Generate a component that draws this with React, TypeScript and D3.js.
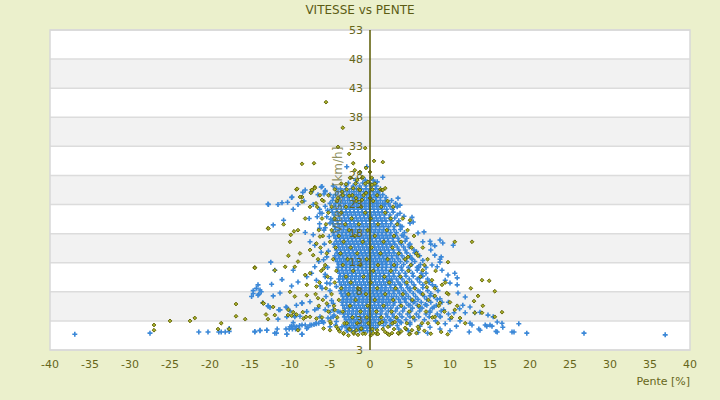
import React from "react";
import * as d3 from "d3";

const title = "VITESSE vs PENTE";
const xTitle = "Pente [%]";
const yTitle = "Vitesse [km/h]";
const xTicks = [-40, -35, -30, -25, -20, -15, -10, -5, 0, 5, 10, 15, 20, 25, 30, 35, 40];
const yTicks = [53, 48, 43, 38, 33, 28, 23, 18, 13, 8, 3];
const yMinValue = -2;
const yMinLabel = "3";

// blue series (dense core), rows of [speed, slopes]
const blueRows: [number, number[]][] = [
  [27.2, [-1.8, -0.6, 0.4]],
  [26.2, [-3.0, -2.1, -1.3, -0.5, 0.2, 0.8]],
  [25.2, [-4.0, -3.3, -2.6, -2.0, -1.4, -0.8, -0.2, 0.4, 1.0]],
  [24.2, [-4.6, -3.8, -3.2, -2.6, -2.0, -1.5, -1.0, -0.4, 0.2, 0.7, 1.3, 2.0]],
  [23.2, [-5.0, -4.3, -3.7, -3.1, -2.5, -2.0, -1.5, -1.0, -0.5, 0.0, 0.5, 1.0, 1.6, 2.3, 3.2]],
  [22.2, [-4.8, -4.2, -3.6, -3.0, -2.5, -2.0, -1.5, -1.0, -0.5, 0.0, 0.5, 1.0, 1.5, 2.1, 2.8]],
  [21.2, [-4.5, -3.9, -3.3, -2.8, -2.3, -1.8, -1.3, -0.8, -0.3, 0.2, 0.7, 1.2, 1.8, 2.5, 3.4]],
  [20.2, [-4.7, -4.1, -3.5, -3.0, -2.5, -2.0, -1.5, -1.0, -0.5, 0.0, 0.5, 1.0, 1.5, 2.0, 2.7, 3.6]],
  [19.2, [-4.4, -3.8, -3.3, -2.8, -2.3, -1.8, -1.3, -0.8, -0.3, 0.2, 0.7, 1.2, 1.7, 2.3, 3.0, 4.0]],
  [18.2, [-4.6, -4.0, -3.5, -3.0, -2.5, -2.0, -1.5, -1.0, -0.5, 0.0, 0.5, 1.0, 1.5, 2.0, 2.6, 3.3, 4.3]],
  [17.2, [-4.3, -3.8, -3.3, -2.8, -2.3, -1.8, -1.3, -0.8, -0.3, 0.2, 0.7, 1.2, 1.7, 2.2, 2.8, 3.5, 4.6]],
  [16.2, [-4.5, -4.0, -3.5, -3.0, -2.5, -2.0, -1.5, -1.0, -0.5, 0.0, 0.5, 1.0, 1.5, 2.0, 2.5, 3.1, 3.9, 5.0]],
  [15.2, [-4.2, -3.7, -3.2, -2.7, -2.2, -1.7, -1.2, -0.7, -0.2, 0.3, 0.8, 1.3, 1.8, 2.3, 2.9, 3.6, 4.4, 5.5]],
  [14.2, [-4.4, -3.9, -3.4, -2.9, -2.4, -1.9, -1.4, -0.9, -0.4, 0.1, 0.6, 1.1, 1.6, 2.1, 2.7, 3.3, 4.0, 5.0, 6.2]],
  [13.2, [-4.1, -3.6, -3.1, -2.6, -2.1, -1.6, -1.1, -0.6, -0.1, 0.4, 0.9, 1.4, 1.9, 2.5, 3.1, 3.8, 4.6, 5.6]],
  [12.2, [-4.0, -3.5, -3.0, -2.5, -2.0, -1.5, -1.0, -0.5, 0.0, 0.5, 1.0, 1.5, 2.0, 2.6, 3.2, 3.9, 4.8, 5.9, 7.0]],
  [11.2, [-3.8, -3.3, -2.8, -2.3, -1.8, -1.3, -0.8, -0.3, 0.2, 0.7, 1.2, 1.7, 2.3, 2.9, 3.6, 4.4, 5.3, 6.4]],
  [10.2, [-3.9, -3.4, -2.9, -2.4, -1.9, -1.4, -0.9, -0.4, 0.1, 0.6, 1.1, 1.6, 2.1, 2.7, 3.3, 4.0, 4.9, 5.9, 7.2]],
  [9.2, [-3.6, -3.1, -2.6, -2.1, -1.6, -1.1, -0.6, -0.1, 0.4, 0.9, 1.4, 1.9, 2.5, 3.1, 3.8, 4.6, 5.5, 6.6, 7.8]],
  [8.2, [-3.7, -3.2, -2.7, -2.2, -1.7, -1.2, -0.7, -0.2, 0.3, 0.8, 1.3, 1.8, 2.3, 2.9, 3.5, 4.2, 5.0, 6.0, 7.2, 8.5]],
  [7.2, [-3.4, -2.9, -2.4, -1.9, -1.4, -0.9, -0.4, 0.1, 0.6, 1.1, 1.6, 2.1, 2.7, 3.3, 4.0, 4.8, 5.7, 6.8, 8.0]],
  [6.2, [-3.5, -3.0, -2.5, -2.0, -1.5, -1.0, -0.5, 0.0, 0.5, 1.0, 1.5, 2.0, 2.5, 3.1, 3.8, 4.5, 5.4, 6.4, 7.6, 9.0]],
  [5.2, [-3.2, -2.7, -2.2, -1.7, -1.2, -0.7, -0.2, 0.3, 0.8, 1.3, 1.9, 2.6, 3.4, 4.3, 5.3, 6.5, 7.8]],
  [4.2, [-3.3, -2.8, -2.3, -1.8, -1.3, -0.8, -0.3, 0.2, 0.7, 1.3, 2.0, 2.8, 3.7, 4.7, 5.8, 7.0, 8.4, 9.8]],
  [3.2, [-3.0, -2.5, -2.0, -1.5, -1.0, -0.5, 0.0, 0.5, 1.1, 1.8, 2.6, 3.5, 4.5, 5.6, 6.8]],
  [2.2, [-3.1, -2.6, -2.1, -1.6, -1.1, -0.6, -0.1, 0.4, 1.0, 1.7, 2.5, 3.4]],
  [1.3, [-2.8, -2.3, -1.8, -1.3, -0.8, -0.3, 0.2]],
  [26.7, [-2.7, -1.7, -0.9, -0.1, 0.6]],
  [25.7, [-3.7, -3.0, -2.3, -1.7, -1.1, -0.5, 0.1, 0.7, 1.3]],
  [24.7, [-4.3, -3.5, -2.9, -2.3, -1.7, -1.2, -0.7, -0.1, 0.5, 1.0, 1.6]],
  [23.7, [-4.7, -4.0, -3.4, -2.8, -2.2, -1.7, -1.2, -0.7, -0.2, 0.3, 0.8, 1.3, 1.9, 2.7]],
  [22.7, [-4.5, -3.9, -3.3, -2.7, -2.2, -1.7, -1.2, -0.7, -0.2, 0.3, 0.8, 1.3, 1.8, 2.5]],
  [21.7, [-4.7, -4.1, -3.5, -3.0, -2.5, -2.0, -1.5, -1.0, -0.5, 0.0, 0.5, 1.0, 1.5, 2.1, 2.9]],
  [20.7, [-4.4, -3.8, -3.2, -2.7, -2.2, -1.7, -1.2, -0.7, -0.2, 0.3, 0.8, 1.3, 1.8, 2.4, 3.1]],
  [19.7, [-4.6, -4.0, -3.5, -3.0, -2.5, -2.0, -1.5, -1.0, -0.5, 0.0, 0.5, 1.0, 1.5, 2.0, 2.6, 3.4]],
  [18.7, [-4.3, -3.8, -3.3, -2.8, -2.3, -1.8, -1.3, -0.8, -0.3, 0.2, 0.7, 1.2, 1.7, 2.3, 3.0, 3.8]],
  [17.7, [-4.5, -4.0, -3.5, -3.0, -2.5, -2.0, -1.5, -1.0, -0.5, 0.0, 0.5, 1.0, 1.5, 2.0, 2.5, 3.2, 4.0]],
  [16.7, [-4.2, -3.7, -3.2, -2.7, -2.2, -1.7, -1.2, -0.7, -0.2, 0.3, 0.8, 1.3, 1.8, 2.3, 2.9, 3.6, 4.4]],
  [15.7, [-4.4, -3.9, -3.4, -2.9, -2.4, -1.9, -1.4, -0.9, -0.4, 0.1, 0.6, 1.1, 1.6, 2.1, 2.7, 3.4, 4.2, 4.9]],
  [14.7, [-4.1, -3.6, -3.1, -2.6, -2.1, -1.6, -1.1, -0.6, -0.1, 0.4, 0.9, 1.4, 1.9, 2.4, 3.0, 3.7, 4.6, 5.6]],
  [13.7, [-4.3, -3.8, -3.3, -2.8, -2.3, -1.8, -1.3, -0.8, -0.3, 0.2, 0.7, 1.2, 1.7, 2.2, 2.8, 3.5, 4.3, 5.2]],
  [12.7, [-3.9, -3.4, -2.9, -2.4, -1.9, -1.4, -0.9, -0.4, 0.1, 0.6, 1.1, 1.6, 2.1, 2.7, 3.4, 4.2, 5.2, 6.3]],
  [11.7, [-4.0, -3.5, -3.0, -2.5, -2.0, -1.5, -1.0, -0.5, 0.0, 0.5, 1.0, 1.5, 2.0, 2.6, 3.2, 4.0, 4.9, 5.9]],
  [10.7, [-3.7, -3.2, -2.7, -2.2, -1.7, -1.2, -0.7, -0.2, 0.3, 0.8, 1.3, 1.8, 2.4, 3.0, 3.7, 4.5, 5.4, 6.6]],
  [9.7, [-3.8, -3.3, -2.8, -2.3, -1.8, -1.3, -0.8, -0.3, 0.2, 0.7, 1.2, 1.7, 2.2, 2.8, 3.5, 4.3, 5.2, 6.2, 7.4]],
  [8.7, [-3.5, -3.0, -2.5, -2.0, -1.5, -1.0, -0.5, 0.0, 0.5, 1.0, 1.5, 2.0, 2.6, 3.2, 3.9, 4.7, 5.6, 6.6]],
  [7.7, [-3.6, -3.1, -2.6, -2.1, -1.6, -1.1, -0.6, -0.1, 0.4, 0.9, 1.4, 1.9, 2.4, 3.0, 3.7, 4.5, 5.4, 6.4, 7.6]],
  [6.7, [-3.3, -2.8, -2.3, -1.8, -1.3, -0.8, -0.3, 0.2, 0.7, 1.2, 1.7, 2.3, 2.9, 3.6, 4.3, 5.1, 6.0, 7.1, 8.4]],
  [5.7, [-3.4, -2.9, -2.4, -1.9, -1.4, -0.9, -0.4, 0.1, 0.6, 1.1, 1.6, 2.2, 2.9, 3.8, 4.8, 5.9, 7.1, 8.3]],
  [4.7, [-3.1, -2.6, -2.1, -1.6, -1.1, -0.6, -0.1, 0.4, 0.9, 1.5, 2.3, 3.2, 4.1, 5.1, 6.2, 7.5, 8.9]],
  [3.7, [-3.2, -2.7, -2.2, -1.7, -1.2, -0.7, -0.2, 0.3, 0.8, 1.4, 2.2, 3.0, 4.0, 5.0, 6.1, 7.4, 8.8]],
  [2.7, [-2.8, -2.3, -1.8, -1.3, -0.8, -0.3, 0.2, 0.7, 1.3, 2.0, 2.9, 3.9, 5.0]],
  [1.8, [-2.9, -2.4, -1.9, -1.4, -0.9, -0.4, 0.1, 0.7]],
];

// blue series (scattered) [slope, speed]
const blueScatter: [number, number][] = [
  [-36.9, 0.7], [-27.5, 0.9], [-21.4, 1.1], [-20.25, 1.1], [-18.9, 1.1], [-18.6, 1.1], [-18.1, 1.1],
  [-17.6, 1.7], [-17.6, 1.2], [-14.4, 1.2], [-13.75, 1.4], [-12.9, 1.4], [-14.0, 9.2], [-14.6, 8.2],
  [-13.9, 7.6], [-14.2, 8.6], [-13.6, 8.0], [-12.75, 23.1], [-13.4, 6.1], [-12.75, 5.6], [-11.4, 4.9],
  [-10.5, 5.4], [-9.4, 3.7], [-8.5, 6.1], [-7.75, 1.9], [-8.5, 0.7], [-10.4, 0.7], [-11.9, 0.9], [-11.6, 1.6],
  [-12.7, 23.0], [-11.5, 23.0], [-11.0, 23.3], [-10.3, 23.4], [-9.8, 24.2], [-9.6, 22.2], [-9.0, 23.0],
  [-8.25, 23.6], [-7.3, 25.2], [-6.5, 24.7], [-6.0, 26.1], [-5.6, 25.4], [-5.0, 24.7], [-4.2, 25.8],
  [-7.1, 23.0], [-6.3, 22.2], [-7.6, 20.6], [-6.6, 20.9], [-6.25, 21.5], [-5.6, 22.7], [-5.4, 20.9],
  [-12.1, 19.5], [-10.8, 20.3], [-8.1, 18.2], [-7.5, 16.6], [-7.1, 17.8], [-6.3, 18.9], [-6.9, 16.0],
  [-5.75, 18.6], [-5.0, 19.8], [-5.4, 14.0], [-6.9, 12.3], [-12.4, 13.1], [-11.9, 11.7], [-12.3, 9.3],
  [-13.75, 8.3], [-14.6, 7.7], [-14.0, 7.4], [-14.8, 7.2], [-12.1, 7.3], [-11.25, 7.8], [-11.0, 10.1],
  [-9.8, 9.0], [-9.0, 9.7], [-9.6, 11.7], [-7.9, 10.6], [-7.3, 11.2], [-6.7, 10.0], [-5.6, 10.6],
  [-6.0, 8.6], [-5.0, 9.4], [-4.2, 8.9], [-12.7, 5.5], [-12.5, 5.3], [-11.25, 4.9], [-10.4, 5.3],
  [-10.0, 4.7], [-9.2, 5.7], [-8.5, 6.0], [-7.5, 6.3], [-9.4, 3.9], [-8.75, 3.8], [-7.9, 4.6],
  [-6.9, 4.9], [-6.25, 3.7], [-5.6, 4.9], [-5.0, 4.5], [-4.6, 6.0], [-11.5, 3.3], [-10.4, 3.7],
  [-9.6, 2.7], [-10.0, 2.0], [-9.2, 2.0], [-8.5, 2.3], [-14.4, 1.1], [-13.75, 1.3], [-12.9, 1.4],
  [-11.7, 0.9], [-10.4, 0.7], [-8.5, 0.7], [-7.9, 1.7], [-7.3, 2.3], [-6.7, 2.5], [-5.8, 2.7],
  [-5.0, 2.0], [-4.2, 2.9], [-3.5, 2.0], [-2.9, 1.4], [-4.6, 3.7], [-4.0, 4.6],
  [-9.8, 2.1], [-9.5, 2.1], [-8.8, 2.2], [-8.1, 2.3], [-7.0, 2.4], [-6.4, 2.6], [-6.0, 2.9],
  [-10.5, 1.6], [-10.1, 1.6], [-9.7, 1.6], [-9.3, 1.6], [-8.9, 1.6],
  [-7.5, 2.3], [-6.75, 2.6], [-6.0, 3.0], [-5.25, 3.5], [-4.5, 4.0], [-3.75, 4.5],
  [-5.3, 22.0], [-4.9, 20.5], [-5.6, 19.0], [-5.1, 17.5], [-5.7, 16.2], [-5.2, 15.0], [-5.8, 13.5],
  [-5.3, 12.2], [-5.6, 11.0], [-4.9, 10.3], [-5.4, 9.5], [-5.0, 8.2], [-5.5, 7.2], [-4.8, 6.5],
  [-5.2, 5.6], [-4.6, 4.9], [-4.9, 3.5], [-4.3, 2.3], [-3.8, 1.5], [-6.0, 21.5], [-6.3, 19.7],
  [-6.1, 14.8], [-6.4, 13.2], [-6.2, 9.0], [-6.5, 5.2], [-6.0, 3.0],
  [-2.9, 29.5], [-0.4, 29.5], [-4.6, 26.2], [-6.1, 26.0], [-8.1, 25.5], [-8.4, 25.1], [-9.75, 24.3],
  [-5.6, 25.2], [-5.75, 24.8],
  [1.6, 27.7], [0.9, 26.9], [1.0, 25.0], [1.9, 23.1], [3.4, 22.6], [3.75, 22.9], [3.5, 24.1],
  [3.75, 21.5], [4.25, 21.0], [5.25, 20.8], [5.4, 20.0], [5.0, 19.8], [6.75, 18.3], [7.5, 16.7],
  [7.6, 16.2], [8.75, 16.9], [9.1, 16.4], [10.4, 16.0], [8.1, 15.9], [8.9, 14.0], [8.75, 13.1],
  [10.9, 10.4], [6.0, 18.1], [6.6, 16.6], [7.6, 15.2], [8.1, 14.3], [8.75, 13.6], [8.4, 12.3],
  [9.75, 10.9], [10.6, 11.2], [10.9, 9.2], [10.0, 9.5], [11.0, 7.8], [11.9, 7.1], [11.6, 5.7],
  [12.5, 5.4], [13.1, 4.4], [13.75, 4.5], [14.75, 4.0], [15.4, 3.7], [14.4, 2.3], [15.0, 2.3],
  [15.9, 2.8], [16.5, 2.6], [17.75, 1.1], [15.9, 1.1], [13.75, 1.4], [12.75, 2.3], [11.9, 4.4],
  [16.6, 1.9], [18.0, 1.1], [18.6, 2.5], [19.6, 0.9], [26.75, 0.9], [36.9, 0.6], [15.25, 2.1],
  [14.6, 2.1], [15.75, 1.2], [13.6, 1.6], [12.4, 1.1],
  [7.75, 12.6], [9.0, 11.7], [9.4, 10.0], [7.0, 11.2], [6.2, 10.4], [7.4, 9.6], [8.2, 8.9],
  [5.0, 5.7], [6.25, 5.2], [7.5, 4.5], [8.75, 3.8], [10.0, 3.3], [11.25, 3.0], [12.5, 2.6],
  [2.5, 3.1], [3.75, 2.8], [5.0, 2.4], [6.25, 2.1], [7.5, 1.9], [8.75, 1.6], [10.0, 1.3],
  [2.5, 10.0], [3.75, 9.3], [5.0, 8.6], [6.25, 8.0], [7.5, 7.3], [8.75, 6.8], [9.8, 6.2],
  [4.4, 6.8], [5.6, 6.3], [6.9, 5.8], [8.0, 5.4], [9.2, 4.9], [10.5, 4.4], [11.2, 5.1],
  [3.6, 1.6], [4.8, 1.3], [6.0, 1.0], [7.2, 0.9], [8.2, 3.0], [9.4, 2.5], [10.8, 2.1],
  [4.2, 17.6], [3.8, 19.3], [4.9, 16.1], [5.8, 14.9], [5.3, 13.6], [6.6, 13.4], [6.1, 12.2],
];

// olive series (core sprinkle), rows of [speed, slopes]
const oliveRows: [number, number[]][] = [
  [27.6, [-2.4, -1.0, 0.2]],
  [26.6, [-3.6, -1.8, -0.6, 0.6]],
  [25.6, [-4.4, -2.9, -1.4, 0.3, 1.3]],
  [24.6, [-5.2, -3.4, -2.2, -0.8, 0.9]],
  [23.6, [-5.8, -4.1, -1.7, 0.4, 2.2]],
  [22.6, [-6.6, -4.8, -3.0, -1.1, 1.4, 2.9]],
  [21.6, [-5.2, -3.6, -0.6, 1.9]],
  [20.6, [-6.0, -4.4, -2.3, 0.1, 2.6, 4.1]],
  [19.6, [-5.5, -3.1, -1.4, 1.0, 3.4]],
  [18.6, [-6.4, -4.8, -2.6, -0.3, 2.1, 4.7]],
  [17.6, [-5.9, -3.9, -1.9, 0.6, 3.0, 5.5]],
  [16.6, [-5.0, -3.3, -0.9, 1.7, 3.9]],
  [15.6, [-6.2, -4.3, -2.4, 0.2, 2.8, 5.2, 6.6]],
  [14.6, [-5.4, -3.7, -1.6, 1.3, 3.6, 5.8]],
  [13.6, [-6.5, -4.6, -2.8, -0.4, 2.2, 4.4, 7.2]],
  [12.6, [-5.6, -3.4, -1.2, 1.0, 3.0, 5.1, 6.8]],
  [11.6, [-6.1, -4.2, -2.1, 0.4, 2.6, 4.8, 8.2]],
  [10.6, [-5.3, -3.0, -0.8, 1.8, 3.8, 6.3]],
  [9.6, [-6.3, -4.4, -2.4, 0.1, 2.4, 4.6, 7.0, 9.4]],
  [8.6, [-5.5, -3.6, -1.5, 0.9, 3.2, 5.6, 8.1]],
  [7.6, [-6.8, -4.8, -2.7, -0.5, 1.9, 4.1, 6.6, 9.8]],
  [6.6, [-5.9, -3.9, -1.8, 0.6, 2.9, 5.3, 7.3]],
  [5.6, [-6.4, -4.5, -2.5, -0.3, 1.7, 3.9, 6.1, 8.6, 10.9]],
  [4.6, [-5.2, -3.4, -1.2, 0.8, 2.7, 4.9, 7.0, 9.3]],
  [3.6, [-6.0, -4.1, -2.2, -0.4, 1.4, 3.3, 5.4, 7.8, 10.2]],
  [2.6, [-4.9, -3.2, -1.6, -0.2, 1.2, 2.8, 4.6, 6.5, 8.5]],
  [1.6, [-4.0, -2.6, -1.1, 0.3, 1.6, 3.0, 4.5, 6.1]],
  [0.8, [-3.3, -2.0, -0.6, 0.8, 2.2, 3.6, 5.0]],
];

// olive series (scattered) [slope, speed]
const oliveScatter: [number, number][] = [
  [-27.0, 2.3], [-27.0, 1.4], [-25.0, 3.0], [-22.5, 3.0], [-21.9, 3.5], [-19.0, 1.6], [-18.6, 2.6],
  [-17.6, 1.6], [-16.75, 5.9], [-16.75, 3.8], [-15.6, 3.3], [-14.4, 12.2], [-13.4, 6.1], [-12.75, 18.9],
  [-12.75, 3.3], [-13.0, 4.1], [-11.9, 4.0], [-10.25, 4.0], [-9.6, 4.5], [-8.4, 4.5], [-8.0, 3.7], [-9.0, 1.4],
  [-12.7, 18.9], [-10.8, 19.6], [-9.9, 17.8], [-10.0, 16.6], [-9.5, 18.4], [-9.0, 18.6], [-10.2, 14.2],
  [-9.0, 13.2], [-7.5, 15.2], [-7.1, 14.3], [-8.75, 14.6], [-6.7, 16.3], [-6.25, 17.5], [-14.4, 12.1],
  [-11.9, 11.7], [-10.6, 12.3], [-9.4, 12.3], [-8.1, 10.9], [-7.5, 11.2], [-5.8, 12.0], [-7.9, 9.2],
  [-6.7, 8.9], [-10.0, 8.0], [-9.4, 7.2], [-7.9, 7.4], [-6.5, 6.9], [-13.3, 6.0], [-12.1, 5.4],
  [-10.2, 4.9], [-9.8, 3.9], [-9.2, 4.1], [-8.3, 3.4], [-7.5, 3.7], [-6.7, 3.4], [-5.8, 1.7],
  [-5.0, 1.4], [-4.2, 2.0], [-3.3, 0.9], [-5.0, 2.9], [-4.4, 4.9], [-5.4, 6.0], [-2.9, 2.6],
  [-2.5, 1.5], [-1.7, 1.4], [-2.1, 1.0], [-1.1, 1.7],
  [-9.2, 25.6], [-8.5, 24.3], [-7.3, 25.5], [-6.9, 26.0], [-6.25, 24.6], [-6.0, 23.8], [-7.5, 22.6],
  [-8.1, 20.6], [-6.75, 23.2], [-8.5, 23.5],
  [-5.5, 40.6], [-3.4, 36.2], [-4.0, 32.9], [-0.6, 32.7], [-2.6, 31.7], [-8.5, 30.0], [-7.0, 30.1],
  [0.5, 30.5], [1.6, 30.3], [-2.1, 30.1], [1.9, 25.8], [1.5, 25.5], [-9.1, 25.7], [-8.75, 24.3],
  [-7.25, 25.5], [-7.4, 25.0], [-6.9, 25.8],
  [-1.9, 28.9], [-1.25, 28.6], [-0.5, 29.3], [0.0, 28.6], [-2.5, 27.6], [-1.6, 27.2], [-0.9, 27.7],
  [-0.25, 26.9], [0.25, 26.4], [-3.0, 26.5], [-2.1, 25.8], [-1.25, 25.5], [-0.5, 25.0], [-3.5, 25.2],
  [-2.6, 24.5], [-1.75, 24.1], [-1.0, 23.8], [0.0, 24.1], [-4.0, 24.1],
  [10.6, 16.6], [12.75, 16.6], [5.0, 20.3], [9.75, 13.1], [14.0, 10.0], [14.9, 9.9], [15.6, 8.1],
  [12.6, 8.6], [13.5, 7.3], [13.0, 6.4], [14.1, 5.6], [16.5, 4.5], [15.6, 3.7], [1.6, 25.5],
  [4.75, 14.0], [6.0, 14.2], [6.6, 11.7], [7.75, 10.0], [7.1, 8.8], [9.0, 9.2], [9.6, 7.8],
  [8.1, 7.3], [8.75, 6.1], [10.0, 6.2], [10.6, 4.9], [11.25, 3.5], [11.9, 2.6], [13.1, 4.4],
  [14.0, 4.4], [8.1, 3.7], [7.25, 2.6], [6.0, 2.0], [5.25, 1.4], [4.4, 1.8], [3.5, 0.9],
  [2.75, 0.9], [1.9, 1.1], [1.0, 0.75], [0.4, 0.9], [2.25, 2.0], [3.1, 2.8], [1.5, 2.8],
  [-1.5, 0.6], [-0.9, 0.8], [0.1, 0.5], [0.9, 1.4], [2.4, 0.6], [3.9, 1.2], [4.9, 0.7], [5.8, 0.9],
  [6.8, 1.3], [7.6, 0.8], [-2.7, 0.5], [-3.8, 1.2], [8.9, 1.1], [9.7, 0.7],
];

const W = 720;
const H = 400;
const plot = { left: 50, right: 690, top: 30, bottom: 350 };

const font = "'DejaVu Sans', Verdana, sans-serif";
const textColor = "#66661a";

export default function App() {
  const x = d3.scaleLinear().domain([-40, 40]).range([plot.left, plot.right]);
  const y = d3.scaleLinear().domain([yMinValue, 53]).range([plot.bottom, plot.top]);

  const bluePts: [number, number][] = [
    ...blueRows.flatMap(([s, xs]) => xs.map((p) => [p, s] as [number, number])),
    ...blueScatter,
  ];
  const olivePts: [number, number][] = [
    ...oliveRows.flatMap(([s, xs]) => xs.map((p) => [p, s] as [number, number])),
    ...oliveScatter,
  ];

  const gridVals = [...yTicks, yMinValue];
  const bands = gridVals.slice(0, -1).map((v, i) => ({ top: v, bottom: gridVals[i + 1], i }));

  const plusPath = "M-2.5,0H2.5M0,-2.5V2.5";
  const diamondPath = "M0,-1.9L1.9,0L0,1.9L-1.9,0Z";

  return (
    <svg
      width={W}
      height={H}
      style={{ position: "absolute", left: 0, top: 0, display: "block" }}
      fontFamily={font}
    >
      <rect x={0} y={0} width={W} height={H} fill="#ebf0cc" />
      <text x={W / 2} y={14} textAnchor="middle" fontSize={12} fill="#5c5c14">
        {title}
      </text>
      <rect
        x={plot.left}
        y={plot.top}
        width={plot.right - plot.left}
        height={plot.bottom - plot.top}
        fill="#ffffff"
      />
      {bands.map((b) =>
        b.i % 2 === 1 ? (
          <rect
            key={b.i}
            x={plot.left}
            y={y(b.top)}
            width={plot.right - plot.left}
            height={y(b.bottom) - y(b.top)}
            fill="#f2f2f2"
          />
        ) : null
      )}
      {gridVals.map((v) => (
        <line
          key={v}
          x1={plot.left}
          x2={plot.right}
          y1={y(v)}
          y2={y(v)}
          stroke="#dcdcdc"
          strokeWidth={1.5}
        />
      ))}
      <rect
        x={plot.left}
        y={plot.top}
        width={plot.right - plot.left}
        height={plot.bottom - plot.top}
        fill="none"
        stroke="#d8d8d8"
        strokeWidth={1.5}
      />
      <g>
        {bluePts.map(([px, py], i) => (
          <path
            key={"b" + i}
            d={plusPath}
            transform={`translate(${x(px)},${y(py)})`}
            stroke="#3b88d8"
            strokeWidth={1.6}
            fill="none"
          />
        ))}
      </g>
      <g>
        {olivePts.map(([px, py], i) => (
          <path
            key={"o" + i}
            d={diamondPath}
            transform={`translate(${x(px)},${y(py)})`}
            fill="#a7b02c"
            stroke="#5e5e00"
            strokeWidth={0.9}
          />
        ))}
      </g>
      <text
        transform={`translate(${x(-4)},${(plot.top + plot.bottom) / 2}) rotate(-90)`}
        textAnchor="middle"
        dominantBaseline="central"
        fontSize={12}
        fill="#6e6e30"
        fillOpacity={0.75}
      >
        {yTitle}
      </text>
      <line x1={x(0)} x2={x(0)} y1={plot.top} y2={plot.bottom} stroke="#5a5a00" strokeWidth={1.5} />
      {yTicks.map((v) => (
        <text
          key={v}
          x={x(0) - 7}
          y={y(v)}
          textAnchor="end"
          dominantBaseline="central"
          fontSize={11}
          fill={textColor}
        >
          {v}
        </text>
      ))}
      <text
        x={x(0) - 7}
        y={y(yMinValue)}
        textAnchor="end"
        dominantBaseline="central"
        fontSize={11}
        fill={textColor}
      >
        {yMinLabel}
      </text>
      {xTicks.map((v) => (
        <text
          key={v}
          x={x(v)}
          y={plot.bottom + 14}
          textAnchor="middle"
          dominantBaseline="central"
          fontSize={11}
          fill={textColor}
        >
          {v}
        </text>
      ))}
      <text x={plot.right} y={plot.bottom + 31} textAnchor="end" dominantBaseline="central" fontSize={11} fill={textColor}>
        {xTitle}
      </text>
    </svg>
  );
}
